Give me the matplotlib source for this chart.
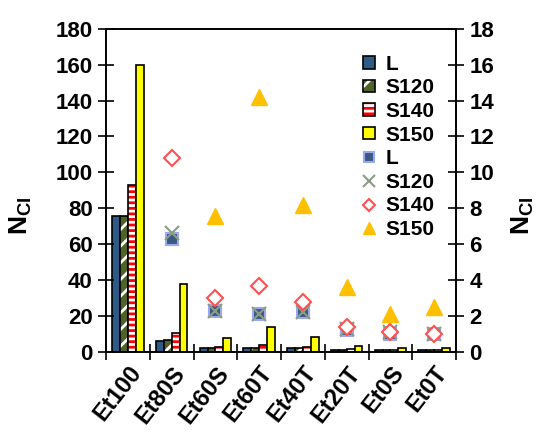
import numpy as np
import matplotlib
matplotlib.use("Agg")
import matplotlib.pyplot as plt
from matplotlib.legend_handler import HandlerTuple

plt.rcParams.update({
    "font.family": ["Liberation Sans", "DejaVu Sans"],
    "font.weight": "bold",
    "mathtext.fontset": "custom",
    "mathtext.bf": "Liberation Sans:bold",
    "hatch.linewidth": 2.0,
    "axes.linewidth": 1.2,
})

categories = ["Et100", "Et80S", "Et60S", "Et60T", "Et40T", "Et20T", "Et0S", "Et0T"]
series = ["L", "S120", "S140", "S150"]
n_L = [76, 6.3, 2.3, 2.1, 2.2, 1.2, 1.0, 1.0]
n_S120 = [76, 6.6, 2.3, 2.1, 2.2, 1.3, 1.1, 1.0]
n_S140 = [93, 10.8, 3.0, 3.7, 2.8, 1.4, 1.1, 1.0]
n_S150 = [160, 38, 7.6, 14.2, 8.2, 3.6, 2.1, 2.5]

x = np.arange(len(categories))
width = 0.18

fig = plt.figure(figsize=(5.42, 4.41), dpi=100)
ax = fig.add_axes([0.1956, 0.2018, 0.6458, 0.7331])
ax2 = ax.twinx()

# bar styles: (face, hatch, hatch colour)
bar_styles = [("#2e5a88", None, None),
              ("#4f6228", "//", "white"),
              ("white", "---", "#ff0000"),
              ("#ffff00", None, None)]
values = [n_L, n_S120, n_S140, n_S150]

handles = []
for i, (vals, (face, hatch, hcol)) in enumerate(zip(values, bar_styles)):
    pos = x + (i - 1.5) * width
    if hatch:
        b1 = ax.bar(pos, vals, width, color=face, hatch=hatch,
                    edgecolor=hcol, linewidth=0)
        b2 = ax.bar(pos, vals, width, fill=False, edgecolor="black", linewidth=1.2)
        handles.append((b1.patches[0], b2.patches[0]))
    else:
        b = ax.bar(pos, vals, width, color=face, edgecolor="black", linewidth=1.2)
        handles.append(b.patches[0])

# same data on the zoomed (x0.1) right axis
h1, = ax2.plot(x, n_L, ls="none", marker="s", ms=9, mfc="#3c5a80",
               mec="#9aa8f0", mew=1.5)
h2, = ax2.plot(x, n_S120, ls="none", marker="x", ms=10, mec="#8c9c84", mew=1.5)
h3, = ax2.plot(x, n_S140, ls="none", marker="D", ms=8, mfc="white",
               mec="#ff5050", mew=1.5)
h4, = ax2.plot(x, n_S150, ls="none", marker="^", ms=11, mfc="#ffc000",
               mec="#ffc000")
handles += [h1, h2, h3, h4]

ax.set_xlim(-0.5, len(categories) - 0.5)
ax.set_ylim(0, 180)
ax2.set_ylim(0, 18)
ax.set_yticks(np.arange(0, 181, 20))
ax2.set_yticks(np.arange(0, 19, 2))

ax.set_xticks(np.arange(-0.5, len(categories), 1.0))
ax.set_xticklabels([])
ax.set_xticks(x, minor=True)
ax.set_xticklabels(categories, minor=True, rotation=52, ha="right",
                   rotation_mode="anchor", fontsize=17, fontweight="bold")
ax.tick_params(axis="x", which="major", direction="inout", length=12, width=1.2)
ax.tick_params(axis="x", which="minor", length=0, pad=7)
ax.tick_params(axis="y", direction="inout", length=12, width=1.2, labelsize=16)
ax2.tick_params(axis="y", direction="inout", length=12, width=1.2, labelsize=16)
for lab in ax.get_yticklabels() + ax2.get_yticklabels():
    lab.set_fontweight("bold")

ax.set_ylabel(r"$\mathbf{N_{CI}}$", fontsize=19)
ax.yaxis.set_label_coords(-0.205, 0.42)
ax2.set_ylabel(r"$\mathbf{N_{CI}}$", fontsize=19)
ax2.yaxis.set_label_coords(1.155, 0.42)

leg = ax2.legend(handles, series + series, handler_map={tuple: HandlerTuple(ndivide=1)},
                 loc="upper left", bbox_to_anchor=(0.71, 0.945), frameon=False,
                 fontsize=15, handlelength=0.6, handleheight=0.55, markerscale=0.8,
                 handletextpad=0.5, labelspacing=0.22, borderaxespad=0)
for t in leg.get_texts():
    t.set_fontweight("bold")

fig.savefig("out.png", dpi=100)
